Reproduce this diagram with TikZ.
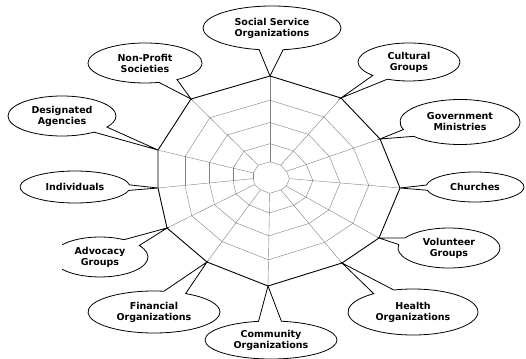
\documentclass[tikz,border=0pt]{standalone}
\usepackage{fontspec}
\setmainfont{DejaVu Sans}
\usetikzlibrary{shapes.callouts, calc}
\tikzstyle{bubble} = [ellipse callout, draw=black, line width=0.8pt, fill=white, align=center, inner sep=0pt, callout pointer arc=20, font=\bfseries\fontsize{9.5}{11}\selectfont]
\tikzstyle{rim} = [draw=black, line width=0.9pt, line join=miter]
\tikzstyle{web} = [draw=gray, line width=0.4pt]

\begin{document}
\begin{tikzpicture}[x=1pt, y=-1pt]
	\useasboundingbox (0,0) rectangle (526,358);

	% centre and corners of the web
	\coordinate (c) at (270,177);
	\coordinate (v1) at (270,76);
	\coordinate (v2) at (341,98);
	\coordinate (v3) at (380,139);
	\coordinate (v4) at (400,188);
	\coordinate (v5) at (379,238);
	\coordinate (v6) at (342,263);
	\coordinate (v7) at (268,286);
	\coordinate (v8) at (207,262);
	\coordinate (v9) at (167,228);
	\coordinate (v10) at (158,188);
	\coordinate (v11) at (158,150);
	\coordinate (v12) at (191,99);

	% inner rings and spokes
	\foreach \r in {0.15,0.33,0.54,0.76} {
		\foreach \i in {1,...,12} {
			\pgfmathtruncatemacro{\j}{mod(\i,12)+1}
			\draw [web] ($(c)!\r!(v\i)$) -- ($(c)!\r!(v\j)$);
		}
	}
	\foreach \i in {1,...,12}
		\draw [web] ($(c)!0.15!(v\i)$) -- (v\i);

	\draw [rim] (v1) -- (v2) -- (v3) -- (v4) -- (v5) -- (v6) -- (v7) -- (v8) -- (v9) -- (v10) -- (v11) -- (v12) -- cycle;

	% bubbles
	\node (soc) [bubble, minimum width=138pt, minimum height=44pt, callout absolute pointer={(v1)}] at (272,28) {Social Service\\Organizations};
	\node (cult) [bubble, minimum width=102pt, minimum height=38pt, callout absolute pointer={(v2)}] at (409,62) {Cultural\\Groups};
	\node (gov) [bubble, minimum width=120pt, minimum height=45pt, callout absolute pointer={(v3)}] at (460,122) {Government\\Ministries};
	\node (chur) [bubble, minimum width=98pt, minimum height=30pt, callout absolute pointer={(v4)}] at (475,187) {Churches};
	\node (vol) [bubble, minimum width=102pt, minimum height=40pt, callout absolute pointer={(v5)}] at (449,248) {Volunteer\\Groups};
	\node (health) [bubble, minimum width=130pt, minimum height=46pt, callout absolute pointer={(v6)}] at (413,312) {Health\\Organizations};
	\node (comm) [bubble, minimum width=132pt, minimum height=38pt, callout absolute pointer={(v7)}] at (271,340) {Community\\Organizations};
	\node (fin) [bubble, minimum width=132pt, minimum height=42pt, callout absolute pointer={(v8)}] at (154,312) {Financial\\Organizations};
	\node (ind) [bubble, minimum width=110pt, minimum height=32pt, callout absolute pointer={(v10)}] at (75,187) {Individuals};
	\node (des) [bubble, minimum width=108pt, minimum height=40pt, callout absolute pointer={(v11)}] at (62,116) {Designated\\Agencies};
	\node (nonp) [bubble, minimum width=114pt, minimum height=40pt, callout absolute pointer={(v12)}] at (145,63) {Non-Profit\\Societies};

	% the open bubble on the left
	\node (adv) [align=center, inner sep=0pt, font=\bfseries\fontsize{9.5}{11}\selectfont] at (100,257) {Advocacy\\Groups};
	\draw [line width=0.8pt] ($(adv)+(-37.8,-12.3)$) arc [start angle=142, end angle=60, x radius=48pt, y radius=20pt] -- (v9) -- ($(adv)+(39.3,-11.5)$) arc [start angle=35, end angle=-142, x radius=48pt, y radius=20pt];
\end{tikzpicture}
\end{document}
